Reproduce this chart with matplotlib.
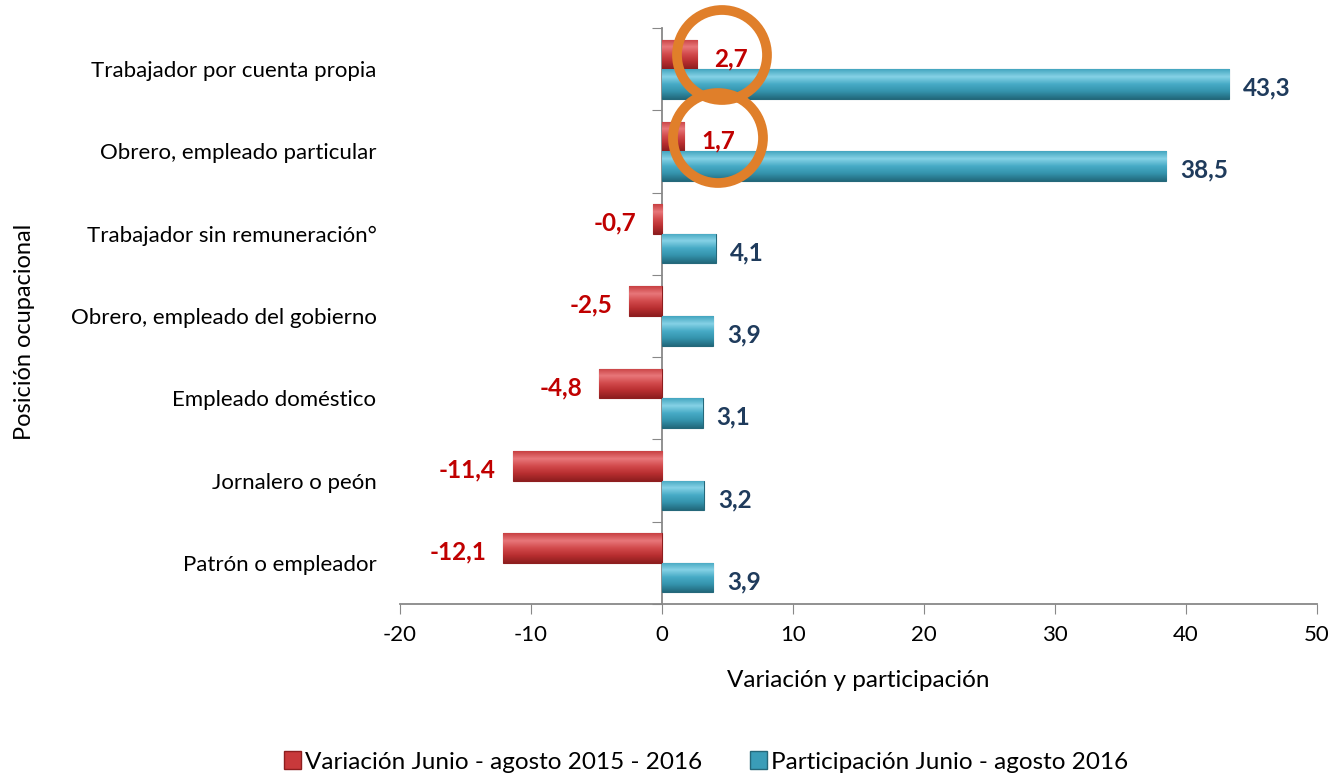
import numpy as np
import matplotlib.pyplot as plt
from matplotlib.patches import Ellipse, Rectangle
from matplotlib.colors import LinearSegmentedColormap

plt.rcParams['font.family'] = ['Lato', 'DejaVu Sans']
plt.rcParams['axes.unicode_minus'] = False

# Datos (de abajo hacia arriba)
categorias = ['Patrón o empleador', 'Jornalero o peón', 'Empleado doméstico',
              'Obrero, empleado del gobierno', 'Trabajador sin remuneración°',
              'Obrero, empleado particular', 'Trabajador por cuenta propia']
variacion = [-12.1, -11.4, -4.8, -2.5, -0.7, 1.7, 2.7]
participacion = [3.9, 3.2, 3.1, 3.9, 4.1, 38.5, 43.3]
nombre_var = 'Variación Junio - agosto 2015 - 2016'
nombre_part = 'Participación Junio - agosto 2016'

rojo, rojo_osc = '#C8393B', '#8E1E1F'
azul, azul_osc = '#3A9DB8', '#25687A'
grad_rojo = LinearSegmentedColormap.from_list('r', ['#8E1E1F', '#B82E30', '#D24A4C', '#E8777A', '#C84042'])
grad_azul = LinearSegmentedColormap.from_list('b', ['#22697C', '#3493AC', '#47ABC6', '#86D2E6', '#44A6C0'])

fig = plt.figure(figsize=(13.32, 7.75), dpi=100)
ax = fig.add_axes([400 / 1332, 1 - 604 / 775, 917 / 1332, 576 / 775])

y = np.arange(len(categorias))
h = 0.36
grad = np.linspace(0, 1, 64).reshape(-1, 1)

def barras(valores, pos, c, c_osc, cmap, etiqueta):
    cont = ax.barh(pos, valores, height=h, color=c, edgecolor=c_osc, linewidth=0.8, label=etiqueta, zorder=2)
    # degradado vertical para imitar el bisel de Excel
    for b in cont:
        x0, y0, w, hh = b.get_x(), b.get_y(), b.get_width(), b.get_height()
        im = ax.imshow(grad, cmap=cmap, aspect='auto', origin='lower',
                       extent=[x0, x0 + w, y0, y0 + hh], zorder=3)
        im.set_clip_path(b)

barras(variacion, y + h / 2, rojo, rojo_osc, grad_rojo, nombre_var)
barras(participacion, y - h / 2, azul, azul_osc, grad_azul, nombre_part)

# Etiquetas de datos
for yi, v in zip(y, variacion):
    txt = f'{v:.1f}'.replace('.', ',')
    if v < 0:
        ax.annotate(txt, (v, yi + h / 2), xytext=(-12, -3), textcoords='offset points',
                    ha='right', va='center', color='#C00000', fontsize=17.5, fontweight='bold')
    else:
        ax.annotate(txt, (v, yi + h / 2), xytext=(12, -3), textcoords='offset points',
                    ha='left', va='center', color='#C00000', fontsize=17.5, fontweight='bold')
for yi, v in zip(y, participacion):
    ax.annotate(f'{v:.1f}'.replace('.', ','), (v, yi - h / 2), xytext=(10, -3), textcoords='offset points',
                ha='left', va='center', color='#1F3B5C', fontsize=17.5, fontweight='bold')

ax.set_xlim(-20, 50)
ax.set_ylim(-0.5, len(categorias) - 0.5)
ax.set_xticks(range(-20, 51, 10))
ax.set_yticks(y)
ax.set_yticklabels(categorias)
ax.tick_params(axis='y', length=0, pad=17, labelsize=16)
ax.tick_params(axis='x', length=7, color='#888888', labelsize=16, pad=8)

for s in ['top', 'right', 'left']:
    ax.spines[s].set_visible(False)
ax.spines['bottom'].set_color('#888888')
ax.spines['bottom'].set_linewidth(1.3)

# eje vertical en x = 0
sec = ax.secondary_yaxis(20 / 70)
sec.set_yticks(np.arange(-0.5, len(categorias), 1.0))
sec.set_yticklabels([])
sec.tick_params(length=7, color='#888888')
sec.spines['left'].set_color('#888888')
sec.spines['left'].set_linewidth(1.3)

ax.set_xlabel('Variación y participación', fontsize=17.5, labelpad=18)
fig.text(25 / 1332, 1 - 332 / 775, 'Posición ocupacional', rotation=90, ha='center', va='center', fontsize=17)

# Leyenda
hv = Rectangle((0, 0), 1, 1, facecolor=rojo, edgecolor=rojo_osc)
hp = Rectangle((0, 0), 1, 1, facecolor=azul, edgecolor=azul_osc)
fig.legend([hv, hp], [nombre_var, nombre_part], loc='center', bbox_to_anchor=(706 / 1332, 1 - 762 / 775),
           ncol=2, frameon=False, fontsize=17.5, handlelength=0.7, handleheight=0.7,
           handletextpad=0.15, columnspacing=2.0, borderpad=0)

# Círculos naranjas de resaltado
for cx, cy in [(722, 55), (718, 138)]:
    fig.patches.append(Ellipse((cx / 1332, 1 - cy / 775), 90 / 1332, 90 / 775, transform=fig.transFigure,
                               fill=False, edgecolor='#E07F2A', linewidth=7, zorder=10))

fig.savefig('out.png', dpi=100)
